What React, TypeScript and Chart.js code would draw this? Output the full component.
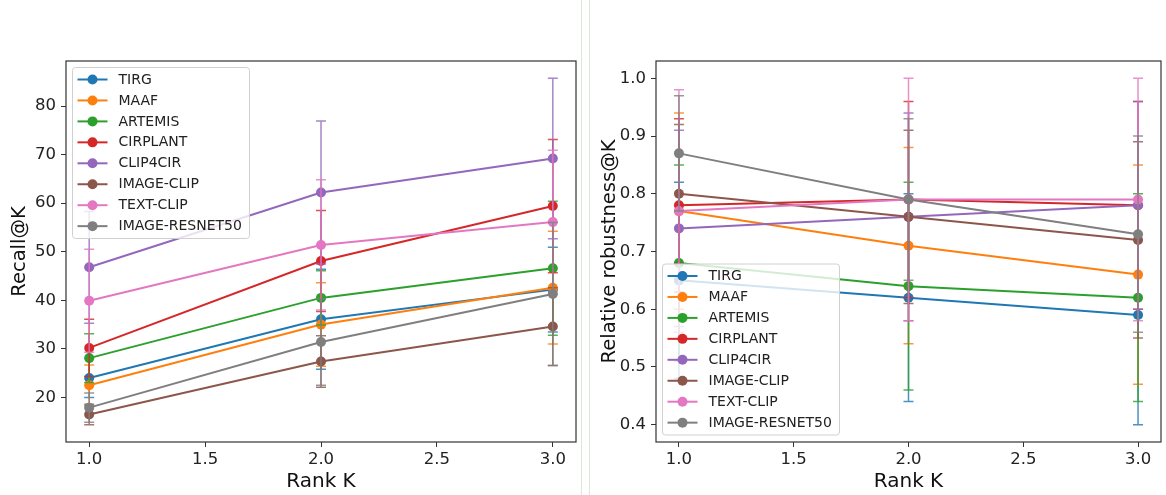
import React, { useEffect, useRef } from "react";
import { Chart, registerables } from "chart.js";

Chart.register(...registerables);

// ---------- data ----------
const rankK = [1, 2, 3];
const xTickValues = [1.0, 1.5, 2.0, 2.5, 3.0];
const recallTickValues = [20, 30, 40, 50, 60, 70, 80];
const robustTickValues = [0.4, 0.5, 0.6, 0.7, 0.8, 0.9, 1.0];

const seriesNames = ["TIRG", "MAAF", "ARTEMIS", "CIRPLANT", "CLIP4CIR", "IMAGE-CLIP", "TEXT-CLIP", "IMAGE-RESNET50"];
const seriesColors = ["#1f77b4", "#ff7f0e", "#2ca02c", "#d62728", "#9467bd", "#8c564b", "#e377c2", "#7f7f7f"];

// Recall@K (left)
const recallTIRG = [24.0, 36.1, 42.2];
const recallMAAF = [22.5, 35.0, 42.6];
const recallARTEMIS = [28.1, 40.5, 46.6];
const recallCIRPLANT = [30.2, 48.1, 59.4];
const recallCLIP4CIR = [46.8, 62.2, 69.2];
const recallImageClip = [16.5, 27.4, 34.6];
const recallTextClip = [39.9, 51.4, 56.1];
const recallResnet50 = [17.9, 31.4, 41.3];

const recallErrTIRG = [4.0, 10.3, 8.7];
const recallErrMAAF = [4.2, 8.6, 11.6];
const recallErrARTEMIS = [5.0, 5.6, 13.8];
const recallErrCIRPLANT = [5.9, 10.4, 13.7];
const recallErrCLIP4CIR = [11.5, 14.7, 16.5];
const recallErrImageClip = [2.1, 5.3, 8.0];
const recallErrTextClip = [10.6, 13.4, 14.8];
const recallErrResnet50 = [3.0, 8.9, 14.7];

// Relative robustness@K (right)
const robustTIRG = [0.65, 0.62, 0.59];
const robustMAAF = [0.77, 0.71, 0.66];
const robustARTEMIS = [0.68, 0.64, 0.62];
const robustCIRPLANT = [0.78, 0.79, 0.78];
const robustCLIP4CIR = [0.74, 0.76, 0.78];
const robustImageClip = [0.80, 0.76, 0.72];
const robustTextClip = [0.77, 0.79, 0.79];
const robustResnet50 = [0.87, 0.79, 0.73];

const robustErrTIRG = [0.17, 0.18, 0.19];
const robustErrMAAF = [0.17, 0.17, 0.19];
const robustErrARTEMIS = [0.17, 0.18, 0.18];
const robustErrCIRPLANT = [0.15, 0.17, 0.18];
const robustErrCLIP4CIR = [0.17, 0.18, 0.18];
const robustErrImageClip = [0.12, 0.15, 0.17];
const robustErrTextClip = [0.21, 0.21, 0.21];
const robustErrResnet50 = [0.10, 0.14, 0.17];

const recallSeries = [recallTIRG, recallMAAF, recallARTEMIS, recallCIRPLANT, recallCLIP4CIR, recallImageClip, recallTextClip, recallResnet50];
const recallErrors = [recallErrTIRG, recallErrMAAF, recallErrARTEMIS, recallErrCIRPLANT, recallErrCLIP4CIR, recallErrImageClip, recallErrTextClip, recallErrResnet50];
const robustSeries = [robustTIRG, robustMAAF, robustARTEMIS, robustCIRPLANT, robustCLIP4CIR, robustImageClip, robustTextClip, robustResnet50];
const robustErrors = [robustErrTIRG, robustErrMAAF, robustErrARTEMIS, robustErrCIRPLANT, robustErrCLIP4CIR, robustErrImageClip, robustErrTextClip, robustErrResnet50];

const FONT = "'DejaVu Sans', sans-serif";

function hexToRgba(hex: string, a: number) {
  const n = parseInt(hex.slice(1), 16);
  return `rgba(${(n >> 16) & 255},${(n >> 8) & 255},${n & 255},${a})`;
}

// ---------- plugins ----------
const errorBarPlugin = {
  id: "errorBars",
  beforeDatasetDraw(chart: any, args: any) {
    const ds: any = chart.data.datasets[args.index];
    const errs: number[] = ds.errors;
    if (!errs) return;
    const yScale = chart.scales.y;
    const ctx = chart.ctx;
    ctx.save();
    ctx.strokeStyle = hexToRgba(ds.borderColor, 0.8);
    ctx.lineWidth = 1.5;
    args.meta.data.forEach((pt: any, i: number) => {
      const v = ds.data[i].y;
      const e = errs[i];
      const y1 = yScale.getPixelForValue(v - e);
      const y2 = yScale.getPixelForValue(v + e);
      const x = pt.x;
      ctx.beginPath();
      ctx.moveTo(x, y1);
      ctx.lineTo(x, y2);
      ctx.moveTo(x - 5, y1);
      ctx.lineTo(x + 5, y1);
      ctx.moveTo(x - 5, y2);
      ctx.lineTo(x + 5, y2);
      ctx.stroke();
    });
    ctx.restore();
  },
};

const framePlugin = {
  id: "frameBox",
  afterDatasetsDraw(chart: any) {
    const { left, top, right, bottom } = chart.chartArea;
    const ctx = chart.ctx;
    ctx.save();
    ctx.strokeStyle = "#333";
    ctx.lineWidth = 1.2;
    ctx.strokeRect(left, top, right - left, bottom - top);
    ctx.restore();
  },
};

const boxLegendPlugin = {
  id: "boxLegend",
  afterDraw(chart: any, _args: any, opts: any) {
    const { left, top, bottom } = chart.chartArea;
    const ctx = chart.ctx;
    const w = 177;
    const h = 171;
    const bx = left + 6.5;
    const by = opts.corner === "bl" ? bottom - 7 - h : top + 6.5;
    ctx.save();
    ctx.beginPath();
    if (ctx.roundRect) ctx.roundRect(bx, by, w, h, 3);
    else ctx.rect(bx, by, w, h);
    ctx.fillStyle = "rgba(255,255,255,0.8)";
    ctx.fill();
    ctx.strokeStyle = "#d0d0d0";
    ctx.lineWidth = 1;
    ctx.stroke();
    ctx.font = `14px ${FONT}`;
    ctx.textBaseline = "middle";
    ctx.textAlign = "left";
    seriesNames.forEach((name, i) => {
      const cy = by + 12 + i * 20.95;
      const color = seriesColors[i];
      ctx.strokeStyle = color;
      ctx.lineWidth = 2;
      ctx.beginPath();
      ctx.moveTo(bx + 5, cy);
      ctx.lineTo(bx + 35, cy);
      ctx.stroke();
      ctx.fillStyle = color;
      ctx.beginPath();
      ctx.arc(bx + 20, cy, 5, 0, Math.PI * 2);
      ctx.fill();
      ctx.fillStyle = "#222";
      ctx.fillText(name, bx + 46, cy + 0.5);
    });
    ctx.restore();
  },
};

// ---------- config ----------
function makeConfig(
  values: number[][],
  errors: number[][],
  yMin: number,
  yMax: number,
  yTicks: number[],
  yTitle: string,
  yDigits: number,
  padRight: number,
  corner: string
): any {
  const n = seriesNames.length;
  return {
    type: "line",
    data: {
      datasets: seriesNames.map((name, i) => ({
        label: name,
        data: rankK.map((k, j) => ({ x: k, y: values[i][j] })),
        errors: errors[i],
        borderColor: seriesColors[i],
        backgroundColor: seriesColors[i],
        borderWidth: 2,
        pointRadius: 5,
        pointBorderWidth: 0,
        pointHoverRadius: 5,
        tension: 0,
        fill: false,
        order: n - i,
      })),
    },
    options: {
      responsive: false,
      animation: false,
      events: [],
      layout: { padding: { top: 61, right: padRight, left: 0, bottom: 0 } },
      plugins: {
        legend: { display: false },
        tooltip: { enabled: false },
        boxLegend: { corner },
      },
      scales: {
        x: {
          type: "linear",
          min: 0.9,
          max: 3.1,
          afterBuildTicks: (s: any) => {
            s.ticks = xTickValues.map((v) => ({ value: v }));
          },
          afterFit: (s: any) => {
            s.height = 53;
          },
          ticks: {
            callback: (v: any) => Number(v).toFixed(1),
            font: { family: FONT, size: 16.5 },
            color: "#222",
            padding: 3,
            maxRotation: 0,
            autoSkip: false,
          },
          grid: { display: true, drawOnChartArea: false, drawTicks: true, tickLength: 5, color: "#333", lineWidth: 1 },
          border: { display: false },
          title: {
            display: true,
            text: "Rank K",
            font: { family: FONT, size: 20 },
            color: "#111",
            padding: { top: 0, bottom: 1 },
          },
        },
        y: {
          type: "linear",
          min: yMin,
          max: yMax,
          afterBuildTicks: (s: any) => {
            s.ticks = yTicks.map((v) => ({ value: v }));
          },
          afterFit: (s: any) => {
            s.width = 66;
          },
          ticks: {
            callback: (v: any) => Number(v).toFixed(yDigits),
            font: { family: FONT, size: 16.5 },
            color: "#222",
            padding: 5,
            autoSkip: false,
          },
          grid: { display: true, drawOnChartArea: false, drawTicks: true, tickLength: 5, color: "#333", lineWidth: 1 },
          border: { display: false },
          title: {
            display: true,
            text: yTitle,
            font: { family: FONT, size: 19.5 },
            color: "#111",
            padding: { top: 8, bottom: 0 },
          },
        },
      },
    },
    plugins: [errorBarPlugin, framePlugin, boxLegendPlugin],
  };
}

export default function App() {
  const leftRef = useRef<HTMLCanvasElement | null>(null);
  const rightRef = useRef<HTMLCanvasElement | null>(null);

  useEffect(() => {
    const left = new Chart(
      leftRef.current as HTMLCanvasElement,
      makeConfig(recallSeries, recallErrors, 10.83, 89.27, recallTickValues, "Recall@K", 0, 3.5, "tl")
    );
    const right = new Chart(
      rightRef.current as HTMLCanvasElement,
      makeConfig(robustSeries, robustErrors, 0.37, 1.03, robustTickValues, "Relative robustness@K", 1, 1, "bl")
    );
    return () => {
      left.destroy();
      right.destroy();
    };
  }, []);

  return (
    <div style={{ position: "absolute", left: 0, top: 0, width: 1166, height: 495, background: "#fff", overflow: "hidden" }}>
      <canvas ref={leftRef} width={581} height={495} style={{ position: "absolute", left: 0, top: 0 }} />
      <div style={{ position: "absolute", left: 581, top: 0, width: 1, height: 495, background: "#dde6dd" }} />
      <div style={{ position: "absolute", left: 589, top: 0, width: 1, height: 495, background: "#dde6dd" }} />
      <canvas ref={rightRef} width={576} height={495} style={{ position: "absolute", left: 590, top: 0 }} />
    </div>
  );
}
